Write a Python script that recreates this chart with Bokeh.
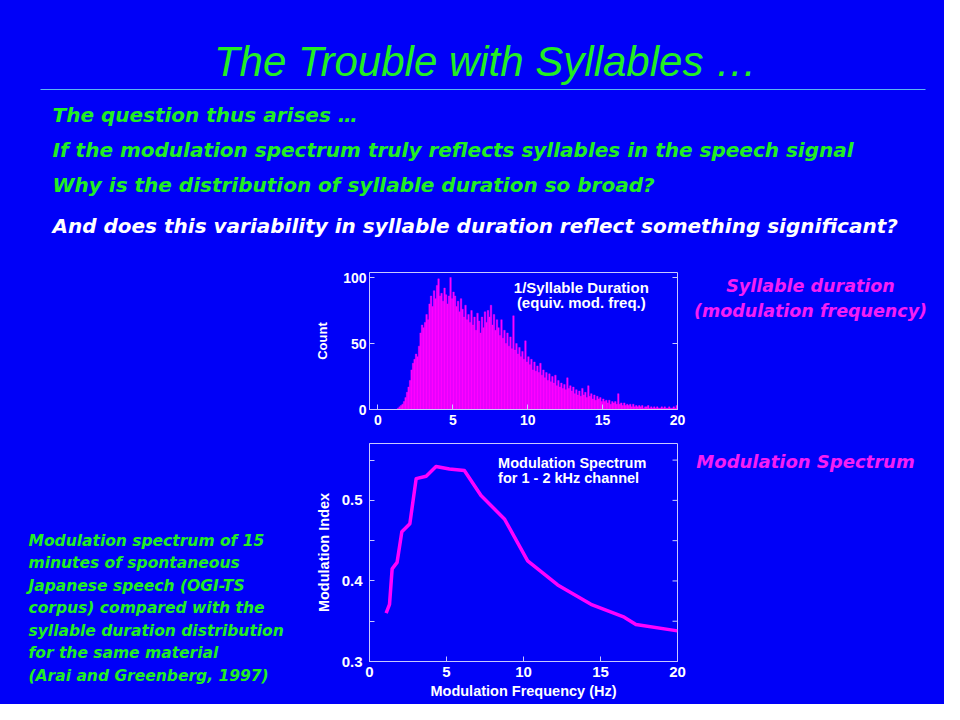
import numpy as np
from bokeh.plotting import figure
from bokeh.layouts import column, row
from bokeh.models import Range1d, FixedTicker, Label
from bokeh.core.properties import value
from bokeh.embed import file_html
from bokeh.resources import INLINE

# ---------------- data ----------------
title = "The Trouble with Syllables \u2026"
bullets = [
    "The question thus arises \u2026",
    "If the modulation spectrum truly reflects syllables in the speech signal",
    "Why is the distribution of syllable duration so broad?",
    "And does this variability in syllable duration reflect something significant?",
]
caption_lines = [
    "Modulation spectrum of 15",
    "minutes of spontaneous",
    "Japanese speech (OGI-TS",
    "corpus) compared with the",
    "syllable duration distribution",
    "for the same material",
    "(Arai and Greenberg, 1997)",
]
label_top = ["Syllable duration", "(modulation frequency)"]
label_bottom = "Modulation Spectrum"

# histogram of 1/syllable duration (0.1 Hz bins starting at 1.3 Hz)
bin_start = 1.3
bin_width = 0.1
counts = [
    1, 2, 3, 4, 6, 9, 13,
    17, 22, 30, 35, 38, 42, 40, 48, 58, 64,
    62, 66, 72, 68, 80, 86, 78, 90, 84, 94,
    99, 86, 88, 82, 92, 87, 80, 86, 100, 84,
    89, 86, 78, 82, 74, 84, 76, 70, 79, 68,
    72, 66, 75, 64, 70, 60, 73, 67, 58, 70,
    62, 74, 66, 75, 70, 79, 64, 72, 60, 68,
    62, 56, 68, 54, 60, 50, 58, 48, 55, 46,
    71, 45, 50, 42, 47, 40, 44, 38, 52, 36,
    40, 34, 38, 30, 36, 29, 33, 28, 35, 26,
    30, 24, 28, 22, 27, 21, 25, 20, 26, 18,
    22, 17, 20, 16, 19, 15, 24, 16, 18, 14,
    17, 12, 15, 11, 14, 10, 16, 11, 13, 9,
    18, 10, 12, 8, 11, 7, 10, 8, 9, 6,
    8, 6, 7, 5, 7, 4, 6, 5, 6, 4,
    12, 4, 5, 3, 5, 3, 4, 3, 4, 2,
    4, 2, 3, 2, 3, 2, 3, 1, 2, 2,
    3, 1, 2, 1, 2, 1, 2, 1, 1, 2,
    1, 2, 1, 1, 2, 1, 1, 2, 1, 3,
]
hist_ticks_x = [0, 5, 10, 15, 20]
hist_ticks_y = [0, 50, 100]

# modulation spectrum, 1-2 kHz channel
mod_freq = [1.08, 1.30, 1.47, 1.79, 2.10, 2.62, 3.03, 3.68, 4.32, 5.19, 6.16,
            7.24, 8.76, 10.27, 12.22, 14.38, 16.54, 17.30, 20.0]
mod_index = [0.360, 0.371, 0.415, 0.423, 0.461, 0.471, 0.527, 0.530, 0.542, 0.539, 0.537,
             0.506, 0.477, 0.425, 0.395, 0.371, 0.355, 0.346, 0.338]
mod_ticks_x = [0, 5, 10, 15, 20]
mod_ticks_y = [0.3, 0.4, 0.5]
mod_minor_y = [0.35, 0.45, 0.55]

# ---------------- style ----------------
BG = "#0000f8"
GREEN = "#22ee22"
MAGENTA = "#ff00ff"
MAG_TXT = "#f51ef5"
AX = "#c8c8ff"
SLIDE_FONT = "DejaVu Sans"
CHART_FONT = "Liberation Sans"


def blank(w, h, xr, yr):
    p = figure(width=w, height=h, x_range=Range1d(*xr), y_range=Range1d(*yr),
               x_axis_type=None, y_axis_type=None, toolbar_location=None,
               output_backend="svg", min_border=0)
    p.background_fill_color = BG
    p.border_fill_color = BG
    p.outline_line_color = None
    return p


def style_axis(ax, size="14px"):
    ax.axis_line_color = AX
    ax.major_tick_line_color = AX
    ax.major_tick_in = 5
    ax.major_tick_out = 0
    ax.minor_tick_line_color = None
    ax.major_label_text_color = "white"
    ax.major_label_text_font = CHART_FONT
    ax.major_label_text_font_style = "bold"
    ax.major_label_text_font_size = size
    ax.axis_label_text_color = "white"
    ax.axis_label_text_font = CHART_FONT
    ax.axis_label_text_font_style = "bold"
    ax.axis_label_text_font_size = "14.5px"


# ---------------- top: title + bullets ----------------
top = blank(944, 247, (0, 944), (247, 0))
top.text(x=[485], y=[61], text=[title], text_font=value("Liberation Sans"),
         text_font_style="italic", text_font_size="42px", text_color=GREEN,
         text_align="center", text_baseline="middle")
top.segment(x0=[40], y0=[89], x1=[925], y1=[89], line_color="#5cb8f0", line_width=1)
top.text(x=[52, 52, 52], y=[114, 149.5, 184.5], text=bullets[:3], text_font=value(SLIDE_FONT),
         text_font_style="bold italic", text_font_size="20px", text_color=GREEN,
         text_align="left", text_baseline="middle")
top.text(x=[52], y=[225], text=bullets[3:], text_font=value(SLIDE_FONT),
         text_font_style="bold italic", text_font_size="20px", text_color="white",
         text_align="left", text_baseline="middle")

# ---------------- left caption ----------------
left = blank(312, 457, (0, 312), (704, 247))
left.text(x=[28] * 7, y=[540, 562.5, 585, 607.5, 630, 652.5, 675], text=caption_lines,
          text_font=value(SLIDE_FONT), text_font_style="bold italic", text_font_size="15.5px",
          text_color=GREEN, text_align="left", text_baseline="middle")

# ---------------- right labels ----------------
right = blank(254, 457, (690, 944), (704, 247))
right.text(x=[810, 810], y=[285.5, 310.5], text=label_top, text_font=value(SLIDE_FONT),
           text_font_style="bold italic", text_font_size="17.5px", text_color=MAG_TXT,
           text_align="center", text_baseline="middle")
right.text(x=[805], y=[461], text=[label_bottom], text_font=value(SLIDE_FONT),
           text_font_style="bold italic", text_font_size="18px", text_color=MAG_TXT,
           text_align="center", text_baseline="middle")

# ---------------- histogram ----------------
hist = figure(width=378, height=188, x_range=Range1d(-0.56, 20.0), y_range=Range1d(0, 103.8),
              toolbar_location=None, output_backend="svg",
              min_border_left=56, min_border_right=13, min_border_top=25, min_border_bottom=26)
hist.background_fill_color = BG
hist.border_fill_color = BG
hist.outline_line_color = AX
hist.grid.visible = False
edges = np.round(bin_start + bin_width * np.arange(len(counts)), 2)
hist.quad(left=edges, right=edges + bin_width, bottom=0, top=counts,
          fill_color=MAGENTA, line_color=MAGENTA, line_width=0.4)
hist.xaxis.ticker = FixedTicker(ticks=hist_ticks_x)
hist.yaxis.ticker = FixedTicker(ticks=hist_ticks_y)
style_axis(hist.xaxis[0])
style_axis(hist.yaxis[0])
hist.xaxis.major_label_standoff = 5
hist.yaxis.major_label_standoff = 3
hist.yaxis.axis_label = "Count"
hist.yaxis.axis_label_standoff = 10
hist.yaxis.axis_label_text_font_size = "13px"
# inward ticks on the right frame edge
h_tick = 5 / 15.0
hist.segment(x0=[hist.x_range.end] * len(hist_ticks_y), y0=hist_ticks_y,
             x1=[hist.x_range.end - h_tick] * len(hist_ticks_y), y1=hist_ticks_y,
             line_color=AX, line_width=1)
hist.add_layout(Label(x=13.58, y=92.2, text="1/Syllable Duration", text_align="center",
                      text_baseline="middle", text_color="white", text_font=CHART_FONT,
                      text_font_style="bold", text_font_size="15px"))
hist.add_layout(Label(x=13.58, y=80.9, text="(equiv. mod. freq.)", text_align="center",
                      text_baseline="middle", text_color="white", text_font=CHART_FONT,
                      text_font_style="bold", text_font_size="15px"))

# ---------------- modulation spectrum ----------------
ms = figure(width=378, height=269, x_range=Range1d(0, 20), y_range=Range1d(0.3, 0.5706),
            toolbar_location=None, output_backend="svg",
            min_border_left=56, min_border_right=13, min_border_top=8, min_border_bottom=43)
ms.background_fill_color = BG
ms.border_fill_color = BG
ms.outline_line_color = AX
ms.grid.visible = False
ms.line(mod_freq, mod_index, line_color=MAGENTA, line_width=3.5, line_join="round")
ms.xaxis.ticker = FixedTicker(ticks=mod_ticks_x)
ms.yaxis.ticker = FixedTicker(ticks=mod_ticks_y, minor_ticks=mod_minor_y)
style_axis(ms.xaxis[0], "15px")
style_axis(ms.yaxis[0], "15px")
ms.yaxis.minor_tick_line_color = AX
ms.yaxis.minor_tick_in = 5
ms.yaxis.minor_tick_out = 0
ms.xaxis.major_label_standoff = 5
ms.yaxis.major_label_standoff = 7
ms.xaxis.axis_label = "Modulation Frequency (Hz)"
ms.xaxis.axis_label_standoff = 3
ms.yaxis.axis_label = "Modulation Index"
ms.yaxis.axis_label_standoff = 7
m_ticks_all = mod_ticks_y + mod_minor_y
m_tick = 5 / 15.45
ms.segment(x0=[ms.x_range.end] * len(m_ticks_all), y0=m_ticks_all,
           x1=[ms.x_range.end - m_tick] * len(m_ticks_all), y1=m_ticks_all,
           line_color=AX, line_width=1)
ms.add_layout(Label(x=8.35, y=0.546, text="Modulation Spectrum", text_align="left",
                    text_baseline="middle", text_color="white", text_font=CHART_FONT,
                    text_font_style="bold", text_font_size="14.5px"))
ms.add_layout(Label(x=8.35, y=0.5274, text="for 1 - 2 kHz channel", text_align="left",
                    text_baseline="middle", text_color="white", text_font=CHART_FONT,
                    text_font_style="bold", text_font_size="14.5px"))

layout = column(top, row(left, column(hist, ms), right), styles={"background-color": BG})
open("out.html", "w").write(file_html(layout, INLINE))
